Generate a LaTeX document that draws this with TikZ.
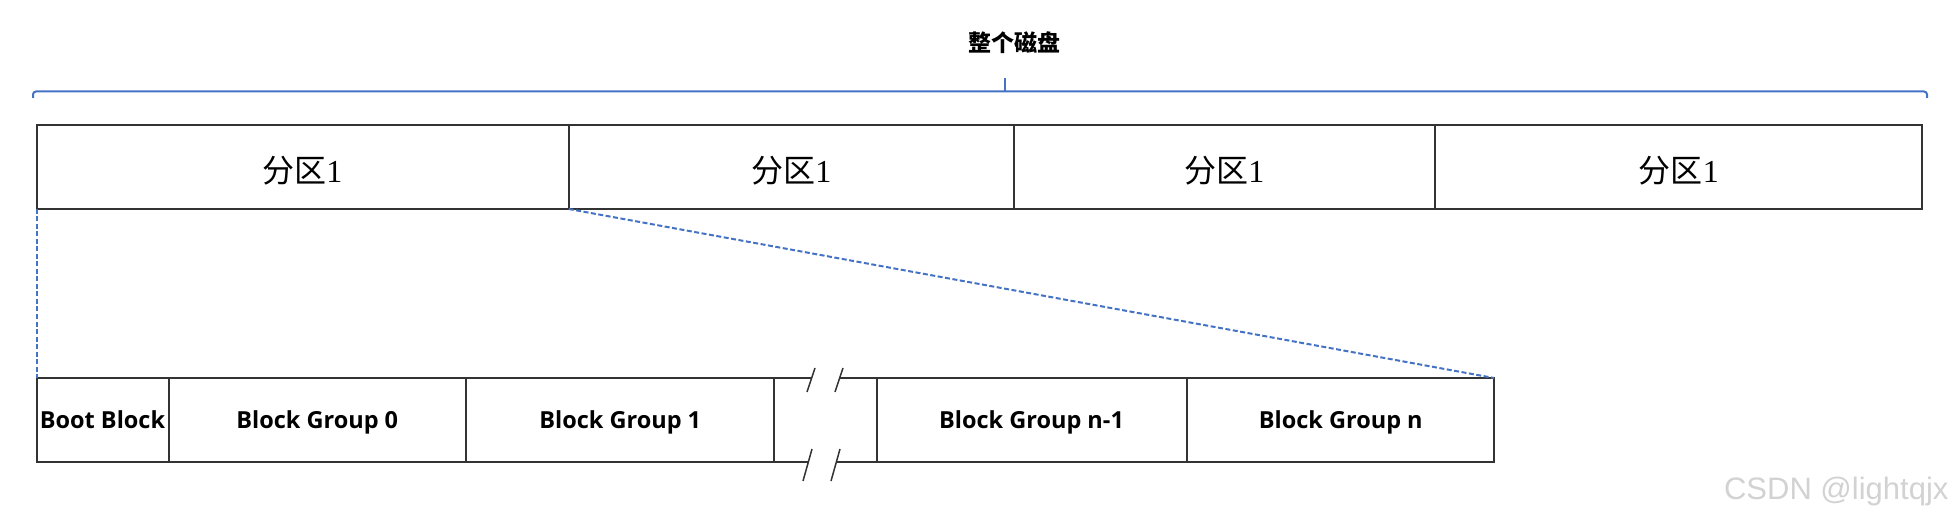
\documentclass[tikz,border=0pt]{standalone}
\usepackage{fontspec}
\setmainfont{Liberation Serif}
\newfontfamily\cjk{Noto Sans CJK SC}
\newfontfamily\groupfont{Open Sans}
\newfontfamily\markfont{Liberation Sans}
\usetikzlibrary{shapes,positioning,calc}
\definecolor{linkblue}{HTML}{4472C4}
\colorlet{boxline}{black!80}

\begin{document}
\begin{tikzpicture}[x=1pt, y=-1pt,
  partition/.style={rectangle split, rectangle split parts=#1, rectangle split horizontal, rectangle split part align=base, draw=boxline, line width=1.5pt, outer sep=0pt, inner xsep=0pt, inner ysep=0pt, text height=58pt, text depth=26pt, font=\fontsize{32}{38}\selectfont},
  groups/.style={rectangle split, rectangle split parts=#1, rectangle split horizontal, rectangle split part align=base, draw=boxline, line width=1.5pt, outer sep=0pt, inner xsep=0pt, inner ysep=0pt, text height=50pt, text depth=34pt, font=\fontsize{23.5}{28}\selectfont\groupfont\bfseries},
  link/.style={linkblue, line width=2pt, dash pattern=on 5pt off 2.5pt},
  bracket/.style={linkblue, line width=2pt},
  gap/.style={boxline, line width=1.5pt}]

\useasboundingbox (0,0) rectangle (1954,521);

% WHOLE DISK

\node [partition=4, anchor=north west] (disk) at (37,125)
{\makebox[531pt]{{\cjk 分区}1}%
\nodepart{two}   \makebox[443.5pt]{{\cjk 分区}1}%
\nodepart{three} \makebox[419.5pt]{{\cjk 分区}1}%
\nodepart{four}  \makebox[486.5pt]{{\cjk 分区}1}};

\coordinate (braceleft) at ($(disk.north west)+(-4,-27)$);
\coordinate (braceright) at ($(disk.north east)+(5,-27)$);
\draw[bracket, rounded corners=3pt] (braceleft) -- ++(0,-6.5) -| (braceright);
\coordinate (bracetip) at ($(braceleft)+(972,-20)$);
\draw[bracket] ($(braceleft)+(972,-6.5)$) -- (bracetip);

\node [font=\cjk\bfseries\fontsize{23}{28}\selectfont] (disktitle) at ($(bracetip)+(9,-35)$) {整个磁盘};

% BLOCK GROUPS

\node [groups=3, below=169pt of disk.south west, anchor=north west] (front)
{\makebox[131pt]{Boot Block}%
\nodepart{two}   \makebox[295.5pt]{Block Group 0}%
\nodepart{three} \makebox[307.5pt]{Block Group 1}};

\node [groups=2, right=103pt of front.east, anchor=west] (back)
{\makebox[309pt]{Block Group n-1}%
\nodepart{two}   \makebox[306.5pt]{Block Group n}};

% BREAK

\coordinate (topcut1) at ($(front.north east)+(38,0)$);
\coordinate (topcut2) at ($(front.north east)+(66,0)$);
\coordinate (botcut1) at ($(front.south east)+(34,0)$);
\coordinate (botcut2) at ($(front.south east)+(62,0)$);

\draw[gap] (front.north east) -- (topcut1);
\draw[gap] (topcut2) -- (back.north west);
\draw[gap] (front.south east) -- (botcut1);
\draw[gap] (botcut2) -- (back.south west);

\foreach \c in {topcut1,topcut2}
  \draw[gap] ($(\c)+(-5,14)$) -- ($(\c)+(3,-10)$);
\foreach \c in {botcut1,botcut2}
  \draw[gap] ($(\c)+(-5,19)$) -- ($(\c)+(4,-13)$);

% ZOOM LINES

\draw[link] (disk.south west) -- (front.north west);
\draw[link] (disk.one split south) -- (back.north east);

\node [anchor=east, text=gray!35, font=\markfont\fontsize{31}{36}\selectfont] (watermark) at (1952,491) {CSDN @lightqjx};

\end{tikzpicture}
\end{document}
